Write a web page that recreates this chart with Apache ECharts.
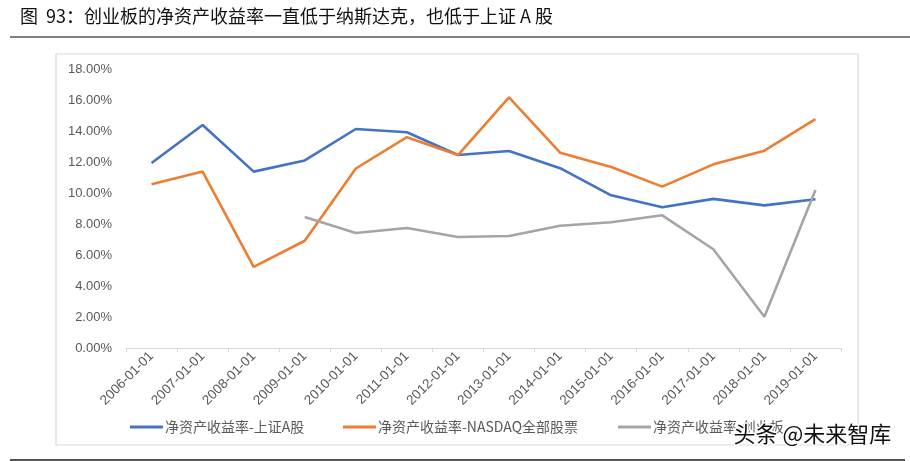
<!DOCTYPE html>
<html><head><meta charset="utf-8">
<script src="https://cdn.jsdelivr.net/npm/echarts@6/dist/echarts.min.js"></script>
<style>html,body{margin:0;padding:0;background:#fff}#c{width:910px;height:461px}</style>
</head><body><div id="c"></div>
<script>
const categories = ['2006-01-01','2007-01-01','2008-01-01','2009-01-01','2010-01-01','2011-01-01','2012-01-01','2013-01-01','2014-01-01','2015-01-01','2016-01-01','2017-01-01','2018-01-01','2019-01-01'];
const shA = [11.94,14.39,11.38,12.10,14.13,13.92,12.45,12.71,11.60,9.85,9.08,9.62,9.20,9.60];
const nasdaq = [10.56,11.38,5.23,6.92,11.58,13.60,12.45,16.17,12.60,11.68,10.41,11.85,12.73,14.77];
const gem = [null,null,null,8.45,7.42,7.74,7.16,7.23,7.89,8.11,8.56,6.37,2.02,10.19];
const seriesNames = ['净资产收益率-上证A股','净资产收益率-NASDAQ全部股票','净资产收益率-创业板'];
const yTicks = {min:0,max:18,interval:2};

const chart = echarts.init(document.getElementById('c'));
const lbl = '#595959';
const mk = (name, data, color) => ({name, type:'line', data, symbol:'none', connectNulls:false,
  lineStyle:{width:2.6,color}, itemStyle:{color}});
const legendCfg = (i, left) => ({left, top:415, itemWidth:33, itemHeight:3, icon:'rect',
  textStyle:{color:lbl,fontSize:14,fontFamily:'Noto Sans CJK SC',padding:[0,0,0,-3]},
  data:[seriesNames[i]]});
chart.setOption({
  animation:false,
  backgroundColor:'#fff',
  grid:{left:126,right:69,top:69,bottom:113},
  xAxis:{type:'category',data:categories,boundaryGap:true,
    axisLine:{lineStyle:{color:'#d9d9d9'}},
    axisTick:{show:true,length:4,lineStyle:{color:'#d9d9d9'}},
    axisLabel:{rotate:45,color:lbl,fontSize:13.5,fontFamily:'Liberation Sans, sans-serif',margin:6}},
  yAxis:{type:'value',min:yTicks.min,max:yTicks.max,interval:yTicks.interval,
    splitLine:{show:false},axisLine:{show:false},axisTick:{show:false},
    axisLabel:{color:lbl,fontSize:13,fontFamily:'Liberation Sans, sans-serif',margin:14,
      formatter:v=>v.toFixed(2)+'%'}},
  legend:[legendCfg(0,125),legendCfg(1,338),legendCfg(2,613)],
  series:[mk(seriesNames[0],shA,'#4472C4'),mk(seriesNames[1],nasdaq,'#ED7D31'),mk(seriesNames[2],gem,'#A5A5A5')],
  graphic:[
    {type:'text',left:20,top:7,style:{text:'图  93：创业板的净资产收益率一直低于纳斯达克，也低于上证 A 股',fill:'#111',font:'18px "Noto Sans CJK SC"'}},
    {type:'line',shape:{x1:10,y1:37,x2:910,y2:37},style:{stroke:'#555',lineWidth:1.5}},
    {type:'rect',shape:{x:56,y:54,width:802,height:391},style:{fill:'none',stroke:'#d9d9d9',lineWidth:1.2},z:-1},
    {type:'line',shape:{x1:10,y1:460,x2:905,y2:460},style:{stroke:'#555',lineWidth:2}},
    {type:'text',left:732,top:421,z:100,style:{text:'头条 @未来智库',fill:'#111',stroke:'#fff',lineWidth:3,font:'22px "Noto Sans CJK SC"'}}
  ]
});
</script></body></html>
